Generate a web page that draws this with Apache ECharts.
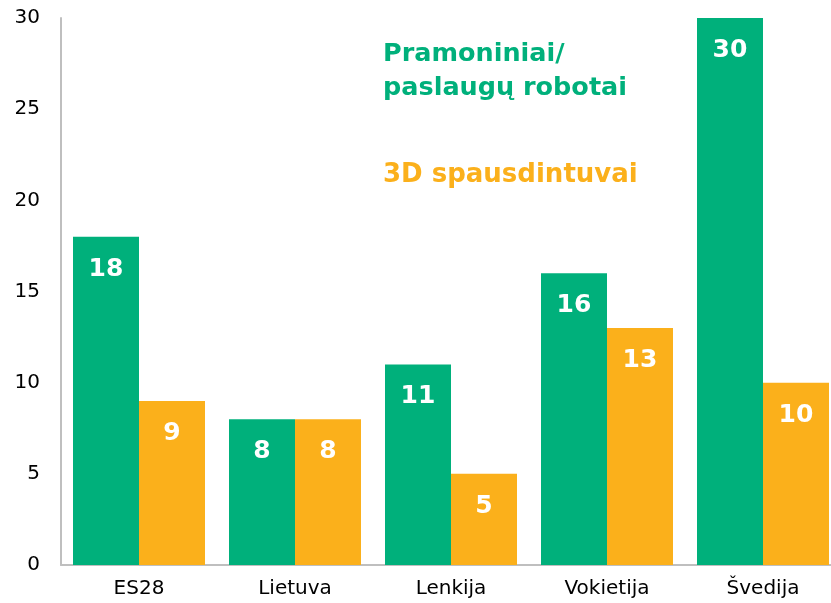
<!DOCTYPE html>
<html>
<head>
<meta charset="utf-8">
<script src="https://cdn.jsdelivr.net/npm/echarts@6/dist/echarts.min.js"></script>
<style>
  html, body { margin: 0; padding: 0; background: #fff; }
  #main { width: 831px; height: 603px; }
</style>
</head>
<body>
<div id="main"></div>
<script>
// duomenys
var categories = ["ES28", "Lietuva", "Lenkija", "Vokietija", "Švedija"];
var robotai = [18, 8, 11, 16, 30];
var spausdintuvai = [9, 8, 5, 13, 10];
var seriesNames = ["Pramoniniai/\npaslaugų robotai", "3D spausdintuvai"];

var green = "#00B07B";
var orange = "#FBB01B";

var myChart = echarts.init(document.getElementById("main"));

var barLabel = {
  show: true,
  position: "insideTop",
  distance: 20,
  color: "#fff",
  fontFamily: "DejaVu Sans",
  fontWeight: "bold",
  fontSize: 25
};

var option = {
  animation: false,
  grid: {
    left: 61,
    width: 780,
    top: 18,
    bottom: 38,
    outerBoundsMode: "none"
  },
  xAxis: {
    type: "category",
    data: categories,
    axisLine: { lineStyle: { color: "#bfbfbf", width: 2 } },
    axisTick: { show: false },
    axisLabel: {
      color: "#000",
      fontFamily: "DejaVu Sans",
      fontSize: 20,
      margin: 14
    }
  },
  yAxis: {
    type: "value",
    min: 0,
    max: 30,
    interval: 5,
    splitLine: { show: false },
    axisLine: { show: true, lineStyle: { color: "#bfbfbf", width: 2 } },
    axisTick: { show: false },
    axisLabel: {
      color: "#000",
      fontFamily: "DejaVu Sans",
      fontSize: 20,
      margin: 21
    }
  },
  graphic: [
    {
      type: "text",
      left: 383,
      top: 37,
      style: {
        text: seriesNames[0],
        fill: green,
        font: "bold 25.5px DejaVu Sans",
        lineHeight: 34
      }
    },
    {
      type: "text",
      left: 383,
      top: 162,
      style: {
        text: seriesNames[1],
        fill: orange,
        font: "bold 26px DejaVu Sans"
      }
    }
  ],
  series: [
    {
      name: seriesNames[0],
      type: "bar",
      data: robotai,
      barWidth: 66,
      barGap: 0,
      itemStyle: { color: green },
      label: barLabel
    },
    {
      name: seriesNames[1],
      type: "bar",
      data: spausdintuvai,
      barWidth: 66,
      itemStyle: { color: orange },
      label: barLabel
    }
  ]
};

myChart.setOption(option);
</script>
</body>
</html>
